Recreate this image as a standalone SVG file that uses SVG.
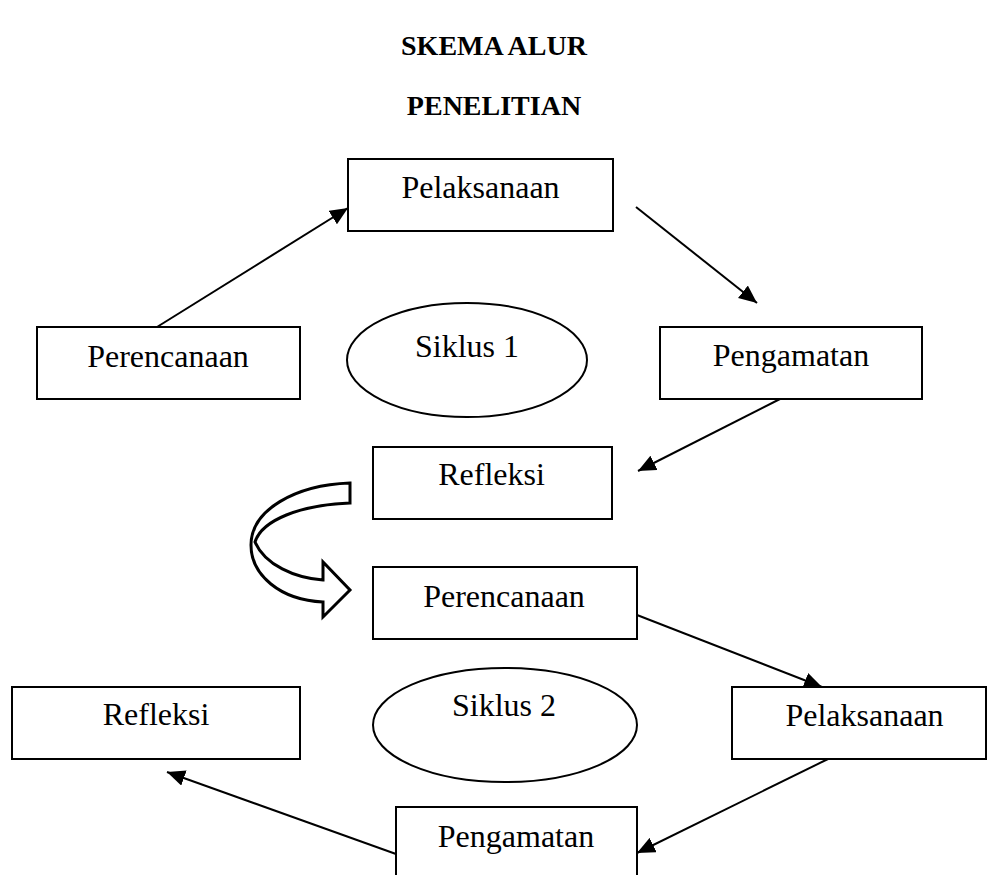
<svg xmlns="http://www.w3.org/2000/svg" width="988" height="875" viewBox="0 0 988 875">
<style>
.box{fill:#fff;stroke:#000;stroke-width:2}
.ell{fill:#fff;stroke:#000;stroke-width:2}
.lbl{font-family:"Liberation Serif","Times New Roman",serif;font-size:32px;fill:#000}
.title{font-family:"Liberation Serif","Times New Roman",serif;font-size:28px;font-weight:bold;fill:#000;text-anchor:middle}
.con{stroke:#000;stroke-width:2;fill:none;marker-end:url(#ah)}
</style>
<defs>
<marker id="ah" markerUnits="userSpaceOnUse" markerWidth="20" markerHeight="16" refX="18" refY="8" orient="auto">
<path d="M0,0 L18,8 L0,16 Z" fill="#000"/>
</marker>
</defs>
<rect width="988" height="875" fill="#fff"/>
<text class="title" x="494" y="55">SKEMA ALUR</text>
<text class="title" x="494" y="115">PENELITIAN</text>

<g id="pelaksanaan1"><rect class="box" x="348" y="159" width="265" height="72"/><text class="lbl" x="480.5" y="198" text-anchor="middle">Pelaksanaan</text></g>
<g id="perencanaan1"><rect class="box" x="37" y="327" width="263" height="72"/><text class="lbl" x="168" y="367" text-anchor="middle">Perencanaan</text></g>
<g id="siklus1"><ellipse class="ell" cx="467" cy="360" rx="120" ry="57"/><text class="lbl" x="467" y="357" text-anchor="middle">Siklus 1</text></g>
<g id="pengamatan1"><rect class="box" x="660" y="327" width="262" height="72"/><text class="lbl" x="791" y="366" text-anchor="middle">Pengamatan</text></g>
<g id="refleksi1"><rect class="box" x="373" y="447" width="239" height="72"/><text class="lbl" x="491.5" y="485" text-anchor="middle">Refleksi</text></g>
<g id="perencanaan2"><rect class="box" x="373" y="567" width="264" height="72"/><text class="lbl" x="504" y="607" text-anchor="middle">Perencanaan</text></g>
<g id="siklus2"><ellipse class="ell" cx="505" cy="725" rx="132" ry="57"/><text class="lbl" x="504" y="716" text-anchor="middle">Siklus 2</text></g>
<g id="pelaksanaan2"><rect class="box" x="732" y="687" width="254" height="72"/><text class="lbl" x="864.5" y="726" text-anchor="middle">Pelaksanaan</text></g>
<g id="refleksi2"><rect class="box" x="12" y="687" width="288" height="72"/><text class="lbl" x="156" y="725" text-anchor="middle">Refleksi</text></g>
<g id="pengamatan2"><rect class="box" x="396" y="807" width="241" height="80"/><text class="lbl" x="516" y="847" text-anchor="middle">Pengamatan</text></g>

<g id="connectors">
<line class="con" x1="157" y1="327" x2="348" y2="208"/>
<line class="con" x1="636" y1="207" x2="757" y2="303"/>
<line class="con" x1="780" y1="399" x2="638" y2="471"/>
<line class="con" x1="637" y1="615" x2="822" y2="687"/>
<line class="con" x1="828" y1="759" x2="637" y2="853"/>
<line class="con" x1="396" y1="854" x2="167" y2="772"/>
<path d="M350,483 L350,503 C300,505 262,520 255,542 C265,565 295,578 323,580 L323,562 L350,590 L323,617 L323,602 C280,600 251,575 251,545 C251,510 295,485 350,483 Z" fill="#fff" stroke="#000" stroke-width="3" stroke-linejoin="miter"/>
</g>
</svg>
